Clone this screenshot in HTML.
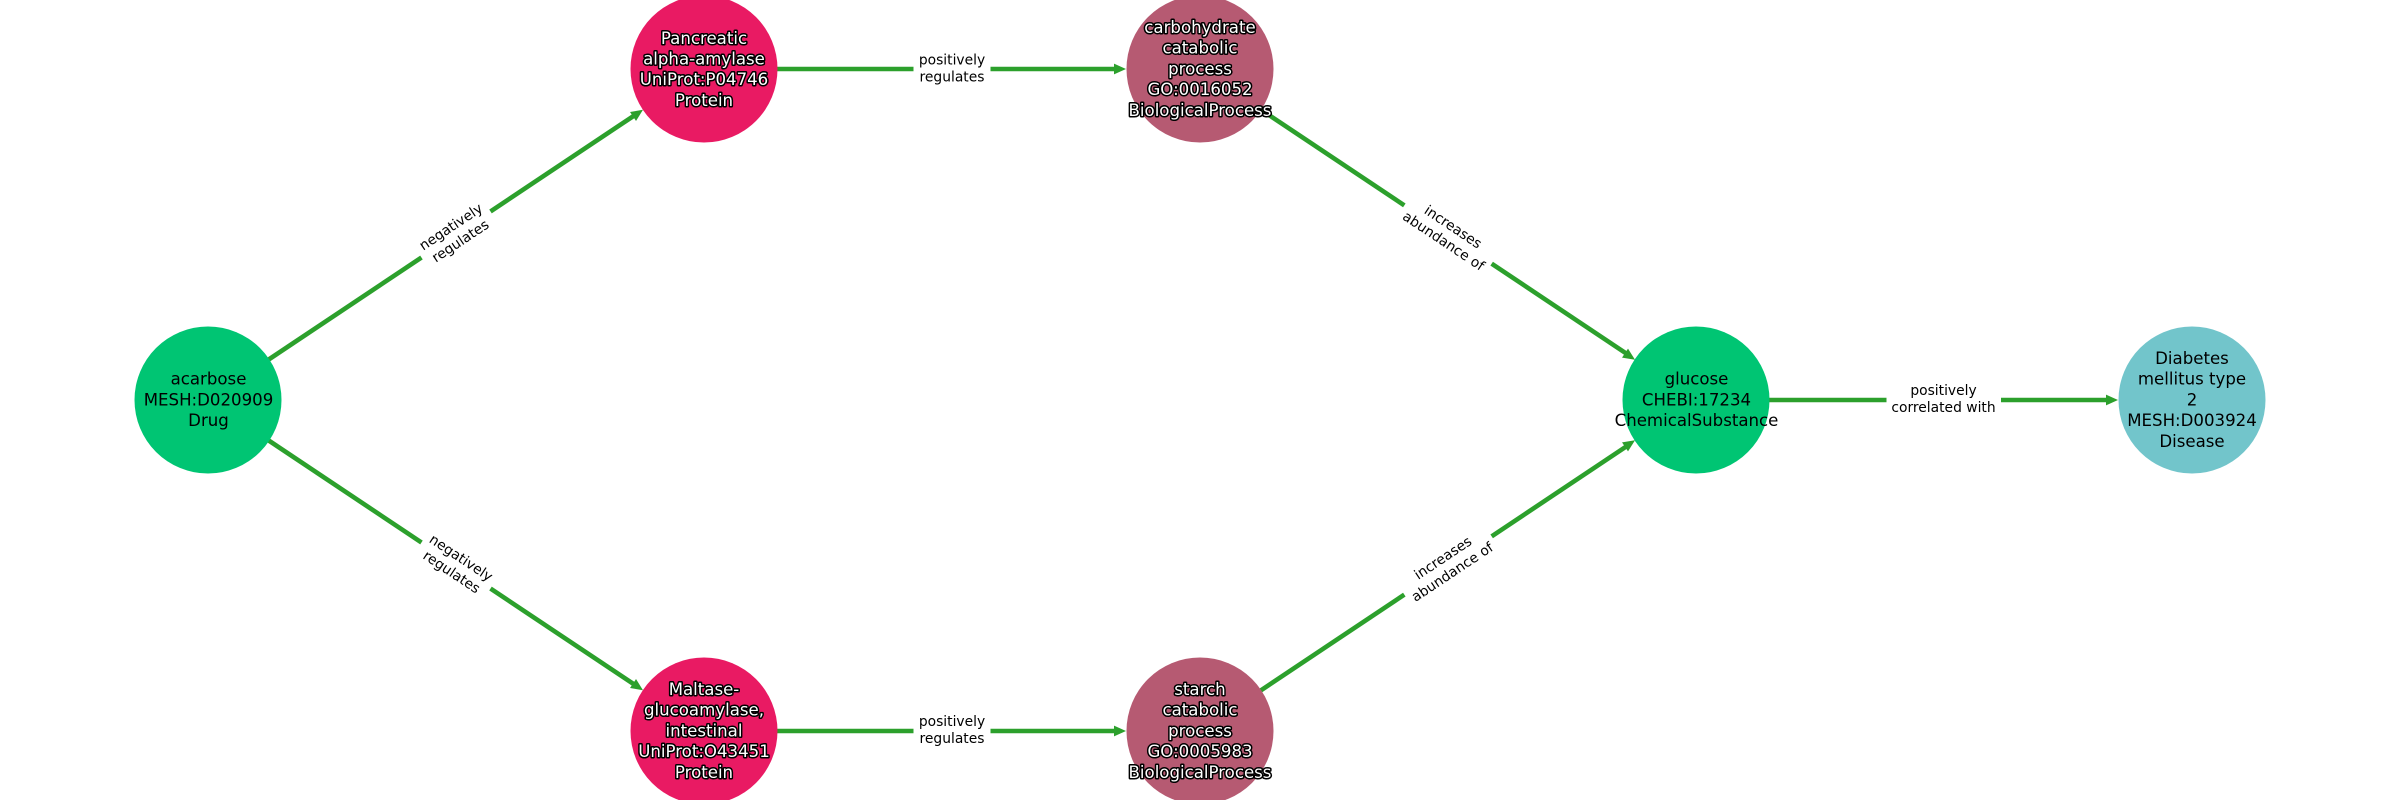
<!DOCTYPE html>
<html><head><meta charset="utf-8"><style>
html,body{margin:0;padding:0;background:#fff;width:2400px;height:800px;overflow:hidden}
svg{display:block}
text{font-family:"DejaVu Sans",sans-serif;text-anchor:middle}
.n{font-size:16.6px;fill:#000}
.o{font-size:16.6px;fill:#fff;stroke:#000;stroke-width:3px;paint-order:stroke;stroke-linejoin:round}
.e{font-size:13.85px;fill:#000}
.l{stroke:#2ca02c;stroke-width:4.6;fill:none}
.a{fill:#2ca02c}
</style></head><body>
<svg width="2400" height="800" viewBox="0 0 2400 800" xmlns="http://www.w3.org/2000/svg">
<rect width="2400" height="800" fill="#fff"/>
<line class="l" x1="208" y1="400" x2="635" y2="115"/>
<polygon class="a" points="0,0 -12,-5.4 -12,5.4" transform="translate(643,109.8) rotate(-33.7)"/>
<line class="l" x1="208" y1="400" x2="635" y2="685"/>
<polygon class="a" points="0,0 -12,-5.4 -12,5.4" transform="translate(643,690.2) rotate(33.7)"/>
<line class="l" x1="704" y1="69" x2="1116" y2="69"/>
<polygon class="a" points="0,0 -12,-5.4 -12,5.4" transform="translate(1126,69)"/>
<line class="l" x1="704" y1="731" x2="1116" y2="731"/>
<polygon class="a" points="0,0 -12,-5.4 -12,5.4" transform="translate(1126,731)"/>
<line class="l" x1="1200" y1="69" x2="1627" y2="354"/>
<polygon class="a" points="0,0 -12,-5.4 -12,5.4" transform="translate(1635,359.8) rotate(33.7)"/>
<line class="l" x1="1200" y1="731" x2="1627" y2="446"/>
<polygon class="a" points="0,0 -12,-5.4 -12,5.4" transform="translate(1635,440.2) rotate(-33.7)"/>
<line class="l" x1="1696" y1="400" x2="2108" y2="400"/>
<polygon class="a" points="0,0 -12,-5.4 -12,5.4" transform="translate(2118,400)"/>

<circle cx="208" cy="400" r="73.5" fill="#00C573"/>
<circle cx="704" cy="69" r="73.5" fill="#E91A63"/>
<circle cx="704" cy="731" r="73.5" fill="#E91A63"/>
<circle cx="1200" cy="69" r="73.5" fill="#B65A72"/>
<circle cx="1200" cy="731" r="73.5" fill="#B65A72"/>
<circle cx="1696" cy="400" r="73.5" fill="#00C573"/>
<circle cx="2192" cy="400" r="73.5" fill="#72C5CB"/>

<g transform="rotate(-33.7 456 234.5)"><rect x="414.5" y="216.5" width="83" height="36" fill="#fff"/><text class="e" x="456" y="230">negatively</text><text class="e" x="456" y="247">regulates</text></g>
<g transform="rotate(33.7 456 565.5)"><rect x="414.5" y="547.5" width="83" height="36" fill="#fff"/><text class="e" x="456" y="561">negatively</text><text class="e" x="456" y="578">regulates</text></g>
<g transform="rotate(33.7 1448 234.5)"><rect x="1395.5" y="216.5" width="105" height="36" fill="#fff"/><text class="e" x="1448" y="230">increases</text><text class="e" x="1448" y="247">abundance of</text></g>
<g transform="rotate(-33.7 1448 565.5)"><rect x="1395.5" y="547.5" width="105" height="36" fill="#fff"/><text class="e" x="1448" y="561">increases</text><text class="e" x="1448" y="578">abundance of</text></g>
<rect x="913.5" y="50" width="77" height="38" fill="#fff"/><text class="e" x="952" y="64.5">positively</text><text class="e" x="952" y="81.5">regulates</text>
<rect x="913.5" y="712" width="77" height="38" fill="#fff"/><text class="e" x="952" y="726">positively</text><text class="e" x="952" y="743">regulates</text>
<rect x="1886.5" y="381" width="114.5" height="38" fill="#fff"/><text class="e" x="1943.5" y="395">positively</text><text class="e" x="1943.5" y="412">correlated with</text>

<text class="n" x="208.5" y="384.5">acarbose</text><text class="n" x="208.5" y="405.5">MESH:D020909</text><text class="n" x="208.5" y="426">Drug</text>
<text class="o" x="704" y="44">Pancreatic</text><text class="o" x="704" y="64.5">alpha-amylase</text><text class="o" x="704" y="85">UniProt:P04746</text><text class="o" x="704" y="106">Protein</text>
<text class="o" x="704" y="695">Maltase-</text><text class="o" x="704" y="715.5">glucoamylase,</text><text class="o" x="704" y="736.5">intestinal</text><text class="o" x="704" y="757">UniProt:O43451</text><text class="o" x="704" y="778">Protein</text>
<text class="o" x="1200" y="33">carbohydrate</text><text class="o" x="1200" y="53.5">catabolic</text><text class="o" x="1200" y="74.5">process</text><text class="o" x="1200" y="95">GO:0016052</text><text class="o" x="1200" y="116">BiologicalProcess</text>
<text class="o" x="1200" y="695">starch</text><text class="o" x="1200" y="715.5">catabolic</text><text class="o" x="1200" y="736.5">process</text><text class="o" x="1200" y="757">GO:0005983</text><text class="o" x="1200" y="778">BiologicalProcess</text>
<text class="n" x="1696.5" y="384.5">glucose</text><text class="n" x="1696.5" y="405.5">CHEBI:17234</text><text class="n" x="1696.5" y="426">ChemicalSubstance</text>
<text class="n" x="2192" y="364">Diabetes</text><text class="n" x="2192" y="384.5">mellitus type</text><text class="n" x="2192" y="405.5">2</text><text class="n" x="2192" y="426">MESH:D003924</text><text class="n" x="2192" y="447">Disease</text>
</svg>
</body></html>
